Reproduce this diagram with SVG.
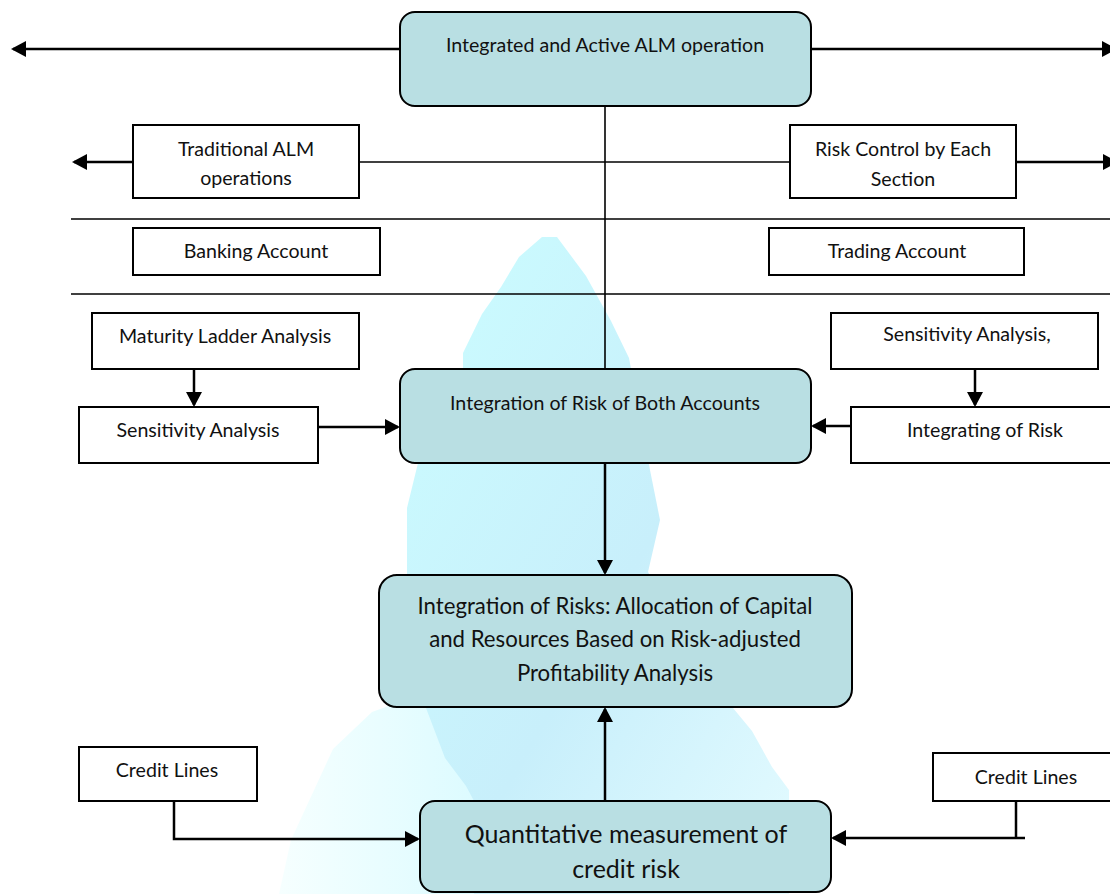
<svg xmlns="http://www.w3.org/2000/svg" width="1110" height="894" viewBox="0 0 1110 894">
  <style>
    .box { fill: #ffffff; stroke: #000000; stroke-width: 2; }
    .rbox { fill: #b9dfe3; stroke: #000000; stroke-width: 2; }
    .t { font-family: Lato, "Liberation Sans", sans-serif; font-size: 19.6px; fill: #111111; text-anchor: middle; }
    .tl { font-size: 22.2px; }
    .tx { font-size: 25px; }
    .arrow { fill: none; stroke: #000000; stroke-width: 2.5; marker-end: url(#ah); }
    .line { fill: none; stroke: #000000; stroke-width: 2.5; }
    .thin { fill: none; stroke: #000000; stroke-width: 1.6; }
  </style>
  <defs>
    <marker id="ah" markerUnits="userSpaceOnUse" markerWidth="16" markerHeight="16" refX="13" refY="8" orient="auto">
      <path d="M0,0 L15,8 L0,16 z" fill="#000000"/>
    </marker>
    <linearGradient id="wm" x1="0" y1="0" x2="1" y2="1">
      <stop offset="0" stop-color="#cbfdff"/>
      <stop offset="0.55" stop-color="#c8effb"/>
      <stop offset="1" stop-color="#e4fbff"/>
    </linearGradient>
    <linearGradient id="wm2" x1="0" y1="0" x2="1" y2="0">
      <stop offset="0" stop-color="#f6ffff"/>
      <stop offset="1" stop-color="#dcfbff"/>
    </linearGradient>
  </defs>

  <rect width="1110" height="894" fill="#ffffff"/>

  <!-- background emblem -->
  <g id="emblem">
    <polygon fill="url(#wm2)" points="405,700 372,712 333,749 291,840 279,894 480,894 480,700"/>
    <polygon fill="url(#wm)" points="542,237 519,257 501,287 482,314 463,353 463,369 418,463 407,508 407,575 426,708 445,758 466,786 474,801 474,894 789,894 789,790 772,767 752,731 733,708 648,572 660,520 650,470 629,358 611,321 586,276 557,237"/>
  </g>

  <!-- connectors -->
  <g id="connectors">
    <line class="arrow" x1="400" y1="49" x2="13" y2="49"/>
    <line class="arrow" x1="811" y1="49" x2="1115" y2="49"/>
    <line class="thin" x1="605" y1="106" x2="605" y2="369"/>
    <line class="arrow" x1="133" y1="162" x2="74" y2="162"/>
    <line class="thin" x1="359" y1="162" x2="790" y2="162"/>
    <line class="arrow" x1="1016" y1="162" x2="1116" y2="162"/>
    <line class="thin" x1="71" y1="219" x2="1110" y2="219"/>
    <line class="thin" x1="71" y1="294" x2="1110" y2="294"/>
    <line class="arrow" x1="194" y1="369" x2="194" y2="405"/>
    <line class="arrow" x1="318" y1="427" x2="398" y2="427"/>
    <line class="arrow" x1="975" y1="369" x2="975" y2="405"/>
    <line class="arrow" x1="851" y1="426" x2="813" y2="426"/>
    <line class="arrow" x1="605" y1="463" x2="605" y2="573"/>
    <line class="arrow" x1="605" y1="801" x2="605" y2="709"/>
    <polyline class="arrow" points="174,801 174,839 418,839"/>
    <line class="line" x1="1016" y1="801" x2="1016" y2="839"/>
    <line class="arrow" x1="1025" y1="838" x2="833" y2="838"/>
  </g>

  <g id="n-top">
    <rect class="rbox" x="400" y="12" width="411" height="94" rx="15"/>
    <text class="t" x="605" y="52">Integrated and Active ALM operation</text>
  </g>
  <g id="n-traditional">
    <rect class="box" x="133" y="125" width="226" height="73"/>
    <text class="t" x="246" y="156">Traditional ALM</text>
    <text class="t" x="246" y="185">operations</text>
  </g>
  <g id="n-riskcontrol">
    <rect class="box" x="790" y="125" width="226" height="73"/>
    <text class="t" x="903" y="156">Risk Control by Each</text>
    <text class="t" x="903" y="186">Section</text>
  </g>
  <g id="n-banking">
    <rect class="box" x="133" y="228" width="247" height="47"/>
    <text class="t" x="256" y="258">Banking Account</text>
  </g>
  <g id="n-trading">
    <rect class="box" x="769" y="228" width="255" height="47"/>
    <text class="t" x="897" y="258">Trading Account</text>
  </g>
  <g id="n-maturity">
    <rect class="box" x="92" y="313" width="267" height="56"/>
    <text class="t" x="225" y="343">Maturity Ladder Analysis</text>
  </g>
  <g id="n-sens-left">
    <rect class="box" x="79" y="407" width="239" height="56"/>
    <text class="t" x="198" y="437">Sensitivity Analysis</text>
  </g>
  <g id="n-sens-right">
    <rect class="box" x="831" y="313" width="267" height="56"/>
    <text class="t" x="967" y="341">Sensitivity Analysis,</text>
  </g>
  <g id="n-integrating">
    <rect class="box" x="851" y="407" width="282" height="56"/>
    <text class="t" x="985" y="437">Integrating of Risk</text>
  </g>
  <g id="n-both">
    <rect class="rbox" x="400" y="369" width="411" height="94" rx="15"/>
    <text class="t" x="605" y="410">Integration of Risk of Both Accounts</text>
  </g>
  <g id="n-risks">
    <rect class="rbox" x="379" y="575" width="473" height="132" rx="18"/>
    <text class="t tl" x="615" y="614">Integration of Risks: Allocation of Capital</text>
    <text class="t tl" x="615" y="647">and Resources Based on Risk-adjusted</text>
    <text class="t tl" x="615" y="681">Profitability Analysis</text>
  </g>
  <g id="n-credit-left">
    <rect class="box" x="79" y="747" width="178" height="54"/>
    <text class="t" x="167" y="777">Credit Lines</text>
  </g>
  <g id="n-credit-right">
    <rect class="box" x="933" y="753" width="186" height="48"/>
    <text class="t" x="1026" y="784">Credit Lines</text>
  </g>
  <g id="n-quant">
    <rect class="rbox" x="420" y="801" width="411" height="91" rx="15"/>
    <text class="t tx" x="626" y="843">Quantitative measurement of</text>
    <text class="t tx" x="626" y="878">credit risk</text>
  </g>
</svg>
